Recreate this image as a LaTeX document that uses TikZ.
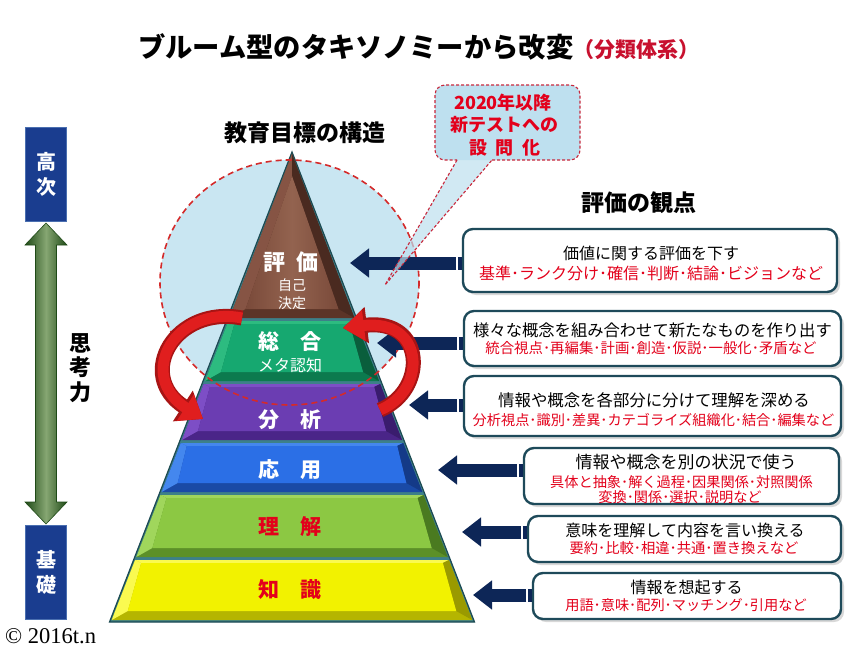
\documentclass[tikz,border=0pt]{standalone}
\usepackage{fontspec}
\setmainfont{Noto Sans CJK JP}
\newfontfamily\cpserif{Liberation Serif}
\usetikzlibrary{arrows.meta,shadows,calc}

\definecolor{navyA}{HTML}{0D2657}
\definecolor{redT}{HTML}{E3001B}
\definecolor{titleRed}{HTML}{C8102E}
\definecolor{boxEdge}{HTML}{1E4A5A}
\definecolor{circFill}{HTML}{C9E6F2}
\definecolor{circLine}{HTML}{D42A2A}
\definecolor{callFill}{HTML}{BEE0EF}
\definecolor{callLine}{HTML}{C8283C}
\definecolor{pyrGap}{HTML}{3D8089}
\definecolor{pyrEdge}{HTML}{1C4A52}
\definecolor{lvBlue}{HTML}{1A3D8F}
\definecolor{lvBlueEdge}{HTML}{4A6FB0}
\definecolor{gDark}{HTML}{1F4A17}
\definecolor{gMid}{HTML}{86A672}
\definecolor{arrRed}{HTML}{E01E1E}
\definecolor{arrRedD}{HTML}{A81414}
% layer colours
\definecolor{brL}{HTML}{865444}\definecolor{brF}{HTML}{7A4A3A}\definecolor{brD}{HTML}{5C3427}\definecolor{brX}{HTML}{4A2A20}\definecolor{brH}{HTML}{93634F}
\definecolor{gnL}{HTML}{2DBB80}\definecolor{gnF}{HTML}{16A870}\definecolor{gnD}{HTML}{0C7A4E}\definecolor{gnX}{HTML}{0A5E3C}
\definecolor{puL}{HTML}{7D4EC6}\definecolor{puF}{HTML}{6B3DB2}\definecolor{puD}{HTML}{4A2588}\definecolor{puX}{HTML}{3A1C6E}
\definecolor{blL}{HTML}{4487EE}\definecolor{blF}{HTML}{2B6FE6}\definecolor{blD}{HTML}{1A4AA6}\definecolor{blX}{HTML}{143A88}
\definecolor{liL}{HTML}{A0D65C}\definecolor{liF}{HTML}{8CC843}\definecolor{liD}{HTML}{5C9028}\definecolor{liX}{HTML}{4A7A20}
\definecolor{yeL}{HTML}{FAFA50}\definecolor{yeF}{HTML}{F2F200}\definecolor{yeD}{HTML}{B5B500}\definecolor{yeX}{HTML}{9A9A00}

% #1 top y, #2 bottom y, #3 light, #4 face, #5 dark (bottom), #6 darker (right)
\newcommand\pyrlayer[6]{%
  \pgfmathsetmacro\PLa{292-0.39*(#1-154)+1.5}%
  \pgfmathsetmacro\PLb{292+0.39*(#1-154)-1.5}%
  \pgfmathsetmacro\PLc{292+0.39*(#2-154)-1.5}%
  \pgfmathsetmacro\PLd{292-0.39*(#2-154)+1.5}%
  \pgfmathsetmacro\PFa{\PLa+6}%
  \pgfmathsetmacro\PFb{\PLb-6}%
  \pgfmathsetmacro\PFc{\PLc-16}%
  \pgfmathsetmacro\PFd{\PLd+16}%
  \fill[#5] (\PLa,#1) -- (\PLb,#1) -- (\PLc,#2) -- (\PLd,#2) -- cycle;
  \fill[#3] (\PLa,#1) -- (\PLb,#1) -- (\PFb,#1+3) -- (\PFa,#1+3) -- cycle;
  \fill[#3] (\PLa,#1) -- (\PFa,#1+3) -- (\PFd,#2-9) -- (\PLd,#2) -- cycle;
  \fill[#6] (\PLb,#1) -- (\PLc,#2) -- (\PFc,#2-9) -- (\PFb,#1+3) -- cycle;
  \fill[#4] (\PFa,#1+3) -- (\PFb,#1+3) -- (\PFc,#2-9) -- (\PFd,#2-9) -- cycle;
}

\begin{document}
\begin{tikzpicture}[x=1pt,y=-1pt,
  obox/.style={draw=boxEdge, line width=2.4pt, fill=white, rounded corners=10pt,
    drop shadow={shadow xshift=3pt, shadow yshift=-3pt, fill=black!30}, inner sep=0pt},
  bt1/.style={font=\fontsize{16}{16}\selectfont, inner sep=0pt},
  bt2/.style={font=\fontsize{14.3}{14.3}\selectfont, text=redT, inner sep=0pt},
  plab/.style={font=\bfseries\fontsize{21}{21}\selectfont, text=white, inner sep=0pt},
  psub/.style={font=\fontsize{14}{14}\selectfont, text=white, inner sep=0pt},
  lbox/.style={draw=lvBlueEdge, fill=lvBlue, line width=1pt, minimum width=41pt,
    minimum height=94pt, text=white, font=\bfseries\fontsize{20}{25}\selectfont,
    align=center, inner sep=0pt},
  navyarr/.style={draw=navyA, line width=13pt, -{Triangle[width=28pt,length=19pt]}},
  navybar/.style={draw=navyA, line width=13pt},
  redback/.style={draw=arrRedD, line width=15pt, -{Triangle[width=35pt,length=24pt]}},
  redarr/.style={draw=arrRed, line width=11pt, -{Triangle[width=30pt,length=21pt]}},
  calldash/.style={draw=callLine, line width=1.1pt, dash pattern=on 3pt off 2pt},
  calltext/.style={font=\bfseries\fontsize{18}{18}\selectfont, text=redT, inner sep=0pt}
]
\fill[white] (0,0) rectangle (864,648);
\useasboundingbox (0,0) rectangle (864,648);

% ---------- titles ----------
\node[anchor=west, inner sep=0pt] (title) at (138,47)
  {{\bfseries\fontsize{27.3}{30}\selectfont ブルーム型のタキソノミーから改変}{\color{titleRed}\bfseries\fontsize{21}{24}\selectfont （分類体系）}};
\node[font=\bfseries\fontsize{23}{23}\selectfont, inner sep=0pt] (kozo) at (305,133) {教育目標の構造};
\node[font=\bfseries\fontsize{23}{23}\selectfont, inner sep=0pt] (kanten) at (639,203) {評価の観点};

% ---------- circle fill ----------
\fill[circFill] (289.5,282.5) ellipse [x radius=129.5, y radius=122.5];

% ---------- pyramid ----------
\fill[pyrGap, draw=pyrEdge, line width=1.2pt] (292,152) -- (474.5,622) -- (109.5,622) -- cycle;
% top (brown) layer
\pgfmathsetmacro\PLc{292+0.39*(318-154)-1.5}
\pgfmathsetmacro\PLd{292-0.39*(318-154)+1.5}
\pgfmathsetmacro\PFc{\PLc-16}
\pgfmathsetmacro\PFd{\PLd+16}
\fill[brD] (292,154) -- (\PLc,318) -- (\PLd,318) -- cycle;
\fill[brL] (292,154) -- (292,176) -- (\PFd,309) -- (\PLd,318) -- cycle;
\fill[brX] (292,154) -- (\PLc,318) -- (\PFc,309) -- (292,176) -- cycle;
\shade[left color=brF, right color=brF, middle color=brH] (292,176) -- (\PFc,309) -- (\PFd,309) -- cycle;
\pyrlayer{321}{381}{gnL}{gnF}{gnD}{gnX}
\pyrlayer{384}{440}{puL}{puF}{puD}{puX}
\pyrlayer{443}{492}{blL}{blF}{blD}{blX}
\pyrlayer{495}{557}{liL}{liF}{liD}{liX}
\pyrlayer{560}{620}{yeL}{yeF}{yeD}{yeX}

% layer labels
\node[plab, font=\bfseries\fontsize{22}{22}\selectfont] (Lhyoka) at (290.5,262) {評\hspace{0.5em}価};
\node[psub] (Ljiko) at (292,285) {自己};
\node[psub] (Lkettei) at (292,303) {決定};
\node[plab] (Lsogo) at (290,342) {総\hspace{1em}合};
\node[psub, font=\fontsize{16}{16}\selectfont] (Lmeta) at (290,365) {メタ認知};
\node[plab] (Lbunseki) at (290,420) {分\hspace{1em}析};
\node[plab] (Loyo) at (290,470) {応\hspace{1em}用};
\node[plab, text=redT] (Lrikai) at (290,527) {理\hspace{1em}解};
\node[plab, text=redT] (Lchishiki) at (290,590) {知\hspace{1em}識};

% ---------- dashed circle outline ----------
\draw[circLine, line width=1.6pt, dash pattern=on 6pt off 4pt] (289.5,282.5) ellipse [x radius=129.5, y radius=122.5];

% ---------- right boxes ----------
\node[obox, minimum width=374pt, minimum height=63pt] (b1) at (650,260.5) {};
\node[obox, minimum width=377pt, minimum height=55pt] (b2) at (652.5,338.5) {};
\node[obox, minimum width=377pt, minimum height=60pt] (b3) at (652.5,406) {};
\node[obox, minimum width=315pt, minimum height=56pt] (b4) at (681.5,476) {};
\node[obox, minimum width=313pt, minimum height=46pt] (b5) at (684.5,539) {};
\node[obox, minimum width=308pt, minimum height=46pt] (b6) at (687,596) {};

\node[bt1] (b1a) at (651,253) {価値に関する評価を下す};
\node[bt2, font=\fontsize{16}{16}\selectfont] (b1b) at (651,273) {基準･ランク分け･確信･判断･結論･ビジョンなど};
\node[bt1, font=\fontsize{16.3}{16.3}\selectfont] (b2a) at (652.5,330) {様々な概念を組み合わせて新たなものを作り出す};
\node[bt2, font=\fontsize{14.4}{14.4}\selectfont] (b2b) at (651,348) {統合視点･再編集･計画･創造･仮説･一般化･矛盾など};
\node[bt1, font=\fontsize{16.4}{16.4}\selectfont] (b3a) at (654,400) {情報や概念を各部分に分けて理解を深める};
\node[bt2, font=\fontsize{14.2}{14.2}\selectfont] (b3b) at (653.5,420) {分析視点･識別･差異･カテゴライズ組織化･結合･編集など};
\node[bt1, font=\fontsize{17}{17}\selectfont] (b4a) at (686,462) {情報や概念を別の状況で使う};
\node[bt2, font=\fontsize{14.2}{14.2}\selectfont] (b4b) at (681.5,482) {具体と抽象･解く過程･因果関係･対照関係};
\node[bt2, font=\fontsize{14.2}{14.2}\selectfont] (b4c) at (680,497) {変換･関係･選択･説明など};
\node[bt1] (b5a) at (685,530) {意味を理解して内容を言い換える};
\node[bt2] (b5b) at (684,548) {要約･比較･相違･共通･置き換えなど};
\node[bt1] (b6a) at (686.5,587) {情報を想起する};
\node[bt2, font=\fontsize{14.2}{14.2}\selectfont] (b6b) at (686,605) {用語･意味･配列･マッチング･引用など};

% ---------- navy arrows ----------
\coordinate (t1) at (350,263);
\coordinate (t2) at (377,343);
\coordinate (t3) at (409,405);
\coordinate (t4) at (438,470);
\coordinate (t5) at (462,532);
\coordinate (t6) at (473,595);
\foreach \i in {1,...,6}{
  \coordinate (s\i) at (b\i.west |- t\i);
  \draw[navyarr] ($(s\i)+(-5.5,0)$) -- (t\i);
  \draw[navybar] ($(s\i)+(-4,0)$) -- (s\i);
}

% ---------- red cycle arrows ----------
\coordinate (ra1) at (242,318);
\coordinate (ra2) at (203,419);
\coordinate (rb1) at (380,410);
\coordinate (rb2) at (343,328);
\draw[redback] (ra1) .. controls (175,305) and (135,375) .. (ra2);
\draw[redarr] (ra1) .. controls (175,305) and (135,375) .. (ra2);
\draw[redback] (rb1) .. controls (428,390) and (425,318) .. (rb2);
\draw[redarr] (rb1) .. controls (428,390) and (425,318) .. (rb2);

% ---------- callout ----------
\fill[callFill, rounded corners=10pt] (435,85) rectangle (580,160);
\fill[callFill, fill opacity=0.7] (457,160) -- (385,285) -- (492,160) -- cycle;
\draw[calldash, rounded corners=10pt] (492,160) -- (580,160) -- (580,85) -- (435,85) -- (435,160) -- (457,160);
\draw[calldash] (457,160) -- (385,285) -- (492,160);
\node[calltext] (c1) at (503,103) {2020年以降};
\node[calltext] (c2) at (504,125) {新テストへの};
\node[calltext] (c3) at (505,148) {設\hspace{0.45em}問\hspace{0.45em}化};

% ---------- left axis ----------
\node[lbox] (hi) at (46,174.5) {高\\次};
\node[lbox] (lo) at (46,572.5) {基\\礎};
\coordinate (gt) at ($(hi.south)+(0,1)$);
\coordinate (gb) at ($(lo.north)+(0,-1)$);
\shade[left color=gDark, right color=gDark, middle color=gMid, draw=gDark, line width=0.6pt]
  (gt) -- ($(gt)+(21,22)$) -- ($(gt)+(10.5,22)$) -- ($(gb)+(10.5,-22)$) -- ($(gb)+(21,-22)$)
  -- (gb) -- ($(gb)+(-21,-22)$) -- ($(gb)+(-10.5,-22)$) -- ($(gt)+(-10.5,22)$) -- ($(gt)+(-21,22)$) -- cycle;
\node[font=\bfseries\fontsize{22}{24.5}\selectfont, align=center, inner sep=0pt] (shiko) at (80,368) {思\\考\\力};

\node[anchor=base west, inner sep=0pt, font=\cpserif\fontsize{22.5}{22.5}\selectfont] (copy) at (5,643) {© 2016t.n};
\end{tikzpicture}
\end{document}
